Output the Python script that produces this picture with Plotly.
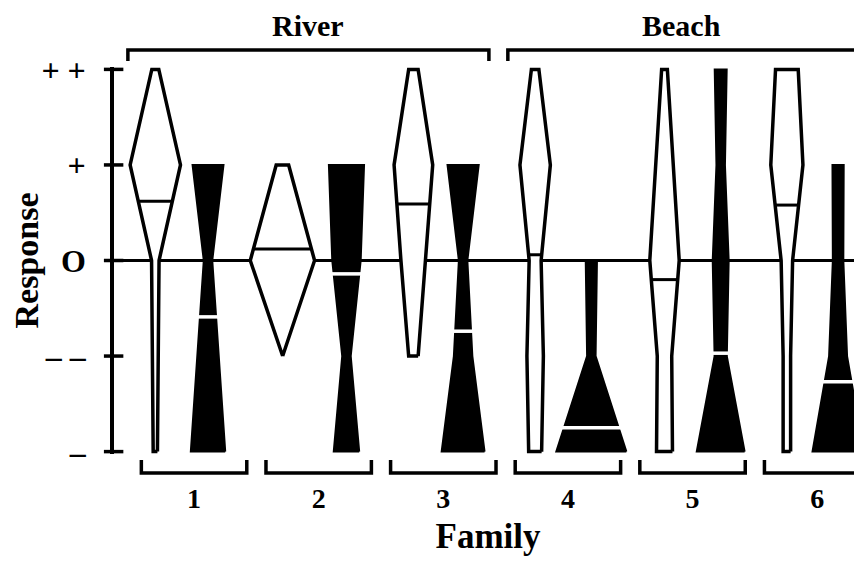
import plotly.graph_objects as go

# ---------------- data ----------------
families = ["1", "2", "3", "4", "5", "6"]
family_x = [1, 2, 3, 4, 5, 6]
levels = [-2, -1, 0, 1, 2]
level_labels = ["–", "– –", "O", "+", "+ +"]
group_names = ["River", "Beach"]
group_label_x = [1.914, 4.915]
group_span = [[0.469, 3.366], [3.518, 6.6]]

# horizontal position of each family's open (white) and filled (black) profile
white_pos = [0.689, 1.709, 2.760, 3.737, 4.775, 5.757]
black_pos = [1.112, 2.223, 3.159, 4.188, 5.226, 6.168]

# half-width of each profile at each response level (hundredths of a family step);
# None = level outside the profile
white_width = [
    [1.7, 2.2, 3.0, 20.2, 2.8],
    [None, 0.2, 25.8, 5.0, None],
    [None, 3.8, 10.0, 15.5, 3.8],
    [5.2, 6.6, 4.8, 12.2, 3.0],
    [6.4, 5.8, 11.8, 6.9, 2.3],
    [3.0, 3.0, 4.6, 12.9, 9.1],
]
black_width = [
    [13.8, 8.4, 3.4, 12.4, None],
    [10.2, 3.4, 11.4, 14.1, None],
    [17.2, 7.4, 3.4, 12.5, None],
    [28.1, 3.4, 4.5, None, None],
    [19.2, 4.9, 6.4, 3.4, 4.8],
    [20.5, 7.2, 4.2, 4.5, None],
]
white_median = [0.62, 0.12, 0.59, 0.06, -0.20, 0.58]
black_median = [-0.59, -0.14, -0.74, -1.75, -0.97, -1.27]

# ---------------- styling ----------------
FONT = "Liberation Serif"
W_SCALE = 0.01  # width units -> x units
X_RANGE = [0.3575, 6.3599]
Y_RANGE = [-2.025, 2.025]
LW = 3.5


def profile(center, widths):
    pts = [(lv, w * W_SCALE) for lv, w in zip(levels, widths) if w is not None]
    xs = [center + w for lv, w in pts] + [center - w for lv, w in reversed(pts)]
    ys = [lv for lv, w in pts] + [lv for lv, w in reversed(pts)]
    xs.append(xs[0])
    ys.append(ys[0])
    return xs, ys


def width_at(widths, m):
    for i in range(len(levels) - 1):
        a, b = widths[i], widths[i + 1]
        if a is None or b is None:
            continue
        if levels[i] <= m <= levels[i + 1]:
            t = (m - levels[i]) / (levels[i + 1] - levels[i])
            return (a + t * (b - a)) * W_SCALE
    return 0


fig = go.Figure()

for i in range(len(families)):
    # open profile
    xs, ys = profile(white_pos[i], white_width[i])
    fig.add_trace(go.Scatter(x=xs, y=ys, mode="lines", fill="toself",
                             fillcolor="white", line=dict(color="black", width=LW),
                             hoverinfo="skip", showlegend=False))
    hw = width_at(white_width[i], white_median[i])
    fig.add_trace(go.Scatter(x=[white_pos[i] - hw, white_pos[i] + hw],
                             y=[white_median[i]] * 2, mode="lines",
                             line=dict(color="black", width=3),
                             hoverinfo="skip", showlegend=False))
    # filled profile
    xs, ys = profile(black_pos[i], black_width[i])
    fig.add_trace(go.Scatter(x=xs, y=ys, mode="lines", fill="toself",
                             fillcolor="black", line=dict(color="black", width=2),
                             hoverinfo="skip", showlegend=False))
    hw = width_at(black_width[i], black_median[i]) + 0.02
    fig.add_trace(go.Scatter(x=[black_pos[i] - hw, black_pos[i] + hw],
                             y=[black_median[i]] * 2, mode="lines",
                             line=dict(color="white", width=3.5),
                             hoverinfo="skip", showlegend=False))

shapes = []
# zero (O) reference line
shapes.append(dict(type="line", xref="x", yref="y", x0=X_RANGE[0], x1=X_RANGE[1],
                   y0=0, y1=0, layer="below", line=dict(color="black", width=3)))
# cross ticks on the response axis
for lv in levels:
    shapes.append(dict(type="line", xref="paper", yref="y", x0=-0.0135, x1=0.0125,
                       y0=lv, y1=lv, line=dict(color="black", width=LW)))
# group brackets (top)
for (a, b) in group_span:
    shapes.append(dict(type="path", xref="x", yref="paper",
                       path=f"M {a},1.0155 L {a},1.0439 L {b},1.0439 L {b},1.0155",
                       line=dict(color="black", width=LW)))
# family brackets (bottom)
for fx in family_x:
    a, b = fx - 0.423, fx + 0.423
    shapes.append(dict(type="path", xref="x", yref="paper",
                       path=f"M {a},-0.0155 L {a},-0.049 L {b},-0.049 L {b},-0.0155",
                       line=dict(color="black", width=LW)))

annotations = []
for name, gx in zip(group_names, group_label_x):
    annotations.append(dict(text=name, x=gx, xref="x", y=1.107, yref="paper",
                            showarrow=False, xanchor="center", yanchor="middle",
                            font=dict(family=FONT, size=30, color="black", weight="bold")))

# the page places the figure 8 px in from the top-left corner
fig.update_layout(
    width=854, height=555,
    margin=dict(l=102, r=0, t=59, b=109, pad=0),
    paper_bgcolor="white", plot_bgcolor="white",
    shapes=shapes, annotations=annotations,
    xaxis=dict(range=X_RANGE, tickvals=family_x, ticktext=families,
               ticks="outside", ticklen=19, tickcolor="rgba(0,0,0,0)",
               showline=False, showgrid=False, zeroline=False,
               tickfont=dict(family=FONT, size=28, color="black", weight="bold"),
               title=dict(text="Family", standoff=10,
                          font=dict(family=FONT, size=35, color="black", weight="bold"))),
    yaxis=dict(range=Y_RANGE, tickvals=levels, ticktext=level_labels,
               ticks="outside", ticklen=18, tickcolor="rgba(0,0,0,0)",
               showline=True, linewidth=LW, linecolor="black",
               showgrid=False, zeroline=False,
               tickfont=dict(family=FONT, size=32, color="black", weight="bold"),
               title=dict(text="Response", standoff=10,
                          font=dict(family=FONT, size=34, color="black", weight="bold"))),
)

fig.write_html("out.html")
